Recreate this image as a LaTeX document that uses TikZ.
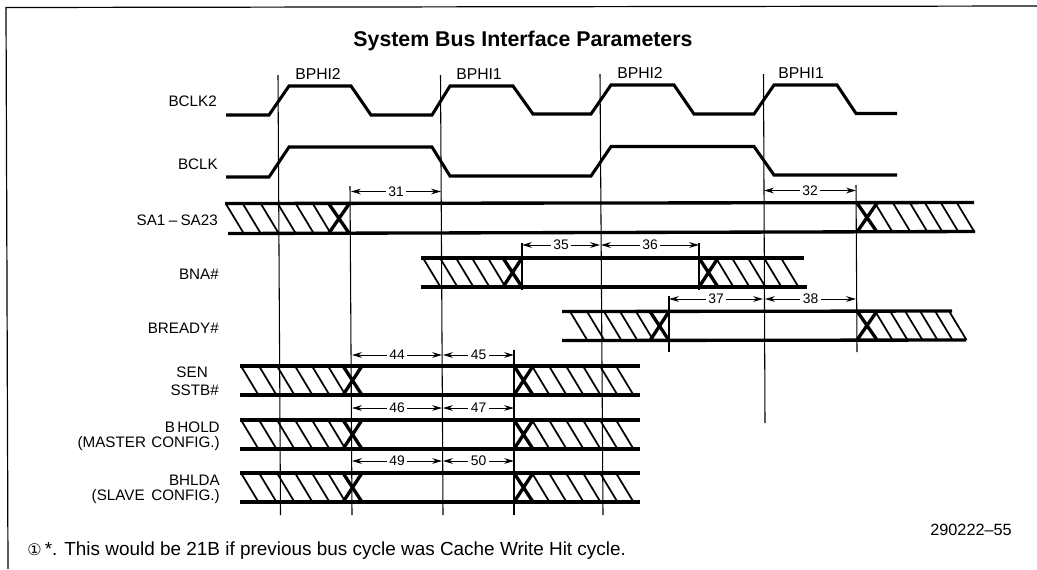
\documentclass[tikz,border=0pt]{standalone}
\usepackage{fontspec}
\setmainfont{Liberation Sans}
\newfontfamily\symfont{DejaVu Sans}
\usetikzlibrary{arrows.meta}

\begin{document}
\begin{tikzpicture}[x=0.75pt,y=-0.75pt,font=\fontsize{11.4pt}{13pt}\selectfont,
    >={Stealth[length=2.6mm,width=1.5mm]},
    frameline/.style={line width=0.9pt},
    guide/.style={line width=0.8pt},
    wave/.style={line width=2.3pt,line join=miter},
    busline/.style={line width=2.5pt},
    hatchline/.style={line width=1.3pt},
    crossline/.style={line width=2.5pt},
    dimline/.style={<->,line width=0.75pt},
    dimlabel/.style={fill=white,inner sep=2pt,font=\fontsize{10.4pt}{12pt}\selectfont},
    siglabel/.style={anchor=east,inner sep=0pt},
    phaselabel/.style={inner sep=0pt,font=\fontsize{11.8pt}{13pt}\selectfont}]
  \useasboundingbox (0,0) rectangle (1037,569);
  \def\hx{17.5}% slant of one hatch stroke

  % ===== frame =====
  \draw[frameline] (1037,6) -- (6,7.5) -- (8,569);

  % ===== title, phases =====
  \node[font=\fontsize{16pt}{18pt}\selectfont\bfseries] (title) at (523,41) {System Bus Interface Parameters};
  \node[phaselabel] (ph1) at (318,74) {BPHI2};
  \node[phaselabel] (ph2) at (479,74) {BPHI1};
  \node[phaselabel] (ph3) at (640,73) {BPHI2};
  \node[phaselabel] (ph4) at (801,73) {BPHI1};

  % ===== clocks =====
  \draw[wave] (226,115) -- (269,115) -- (289,86) -- (351,86) -- (371,115) -- (432,115) -- (450,86)
    -- (513,86) -- (533,114) -- (591,114) -- (611,85) -- (674,85) -- (694,114) -- (754,114)
    -- (774,85) -- (837,85) -- (856,113.5) -- (897,113.5);
  \draw[wave] (226,177) -- (269,177) -- (289,147) -- (432,147) -- (450,176) -- (591,176)
    -- (611,146.5) -- (754,146.5) -- (774,175) -- (897,175);

  % ===== buses: SA, BNA, BREADY =====
  \draw[busline] (225,203.5) -- (974,202.5);
  \draw[busline] (228,233.5) -- (975,231.5);
  \foreach \t in {226,243,261,278,296,313} \draw[hatchline] (\t,204) -- ++(\hx,29);
  \foreach \t in {875,893,910,925,941,957} \draw[hatchline] (\t,203) -- ++(\hx,29);
  \draw[crossline] (329,204) -- (349,233) (329,233) -- (349,204);
  \draw[crossline] (857,203) -- (877,232) (857,232) -- (877,203);

  \draw[busline] (421,258) -- (804,258);
  \draw[busline] (421,287) -- (807,287);
  \foreach \t in {423,440,456,472,488} \draw[hatchline] (\t,258) -- ++(\hx,29);
  \foreach \t in {716,732,748,764,781} \draw[hatchline] (\t,258) -- ++(\hx,29);
  \draw[crossline] (503,258) -- (522,287) (503,287) -- (522,258);
  \draw[crossline] (699,258) -- (718,287) (699,287) -- (718,258);

  \draw[busline] (562,311.5) -- (952,311);
  \draw[busline] (562,340.5) -- (966,340);
  \foreach \t in {570,587,604,620,636} \draw[hatchline] (\t,311.5) -- ++(\hx,29);
  \foreach \t in {875,890,905,920,935,949} \draw[hatchline] (\t,311) -- ++(\hx,29);
  \draw[crossline] (650,311.5) -- (669,340.5) (650,340.5) -- (669,311.5);
  \draw[crossline] (857,311) -- (877,340) (857,340) -- (877,311);

  % ===== buses: SEN, HOLD, HLDA =====
  \foreach \yt/\yb in {366/395,420/449,473/502}{
    \draw[busline] (240,\yt) -- (640,\yt);
    \draw[busline] (240,\yb) -- (640,\yb);
    \foreach \t in {241,259,277,295,312,328} \draw[hatchline] (\t,\yt) -- ++(\hx,29);
    \foreach \t in {532,549,566,583,600,616} \draw[hatchline] (\t,\yt) -- ++(\hx,29);
    \draw[crossline] (343,\yt) -- (362,\yb) (343,\yb) -- (362,\yt);
    \draw[crossline] (514,\yt) -- (533,\yb) (514,\yb) -- (533,\yt);
  }

  % ===== guides =====
  \draw[guide] (278,75) -- (280.5,515);
  \draw[guide] (350,186) -- (352,515);
  \draw[guide] (440.5,75) -- (443,515);
  \draw[guide] (600,74) -- (603,515);
  \draw[guide] (763.5,74) -- (765,423);
  \draw[guide] (856,185) -- (857,352);
  \draw[guide] (522,243) -- (522,290);
  \draw[guide] (699,243) -- (699,290);
  \draw[guide] (669,296) -- (669,352);
  \draw[guide] (514,350) -- (514,515);

  % ===== timing parameters =====
  \foreach \n/\xa/\xb/\yy in {31/351/441/191.5,32/764/856/190.5,35/522/600/245,36/601/699/245,
      37/669/763/299,38/765/856/299,44/352/442/355,45/443/514/355,46/352/442/408,47/443/514/408,
      49/352/442/461,50/443/514/461}{
    \coordinate (a\n) at (\xa,\yy);
    \coordinate (b\n) at (\xb,\yy);
    \draw[dimline] (a\n) -- node[dimlabel] (t\n) {\n} (b\n);
  }

  % ===== row labels =====
  \node[siglabel] (lclktwo) at (217,101) {BCLK2};
  \node[siglabel] (lclk) at (218,164) {BCLK};
  \node[siglabel] (lsa) at (218,220) {SA1\kern2.5pt–\kern2.5ptSA23};
  \node[siglabel] (lbna) at (219,274) {BNA\#};
  \node[siglabel] (lrdy) at (219,328) {BREADY\#};
  \node[siglabel] (lsen) at (208,372) {SEN};
  \node[siglabel] (lsstb) at (219,390) {SSTB\#};
  \node[siglabel] (lhold) at (220,427) {B\,HOLD};
  \node[siglabel] (lmaster) at (220,444) {(MASTER\kern4pt CONFIG.)};
  \node[siglabel] (lhlda) at (220,480) {BHLDA};
  \node[siglabel] (lslave) at (220,497) {(SLAVE\kern5pt CONFIG.)};

  % ===== notes =====
  \node[anchor=east,inner sep=0pt,font=\fontsize{12.2pt}{14pt}\selectfont] (figno) at (1012,530) {290222–55};
  \node[anchor=west,inner sep=0pt,font=\fontsize{14.2pt}{16pt}\selectfont] (note) at (27,551) {{\symfont\fontsize{12pt}{13pt}\selectfont ①}\,*. This would be 21B if previous bus cycle was Cache Write Hit cycle.};
\end{tikzpicture}
\end{document}
